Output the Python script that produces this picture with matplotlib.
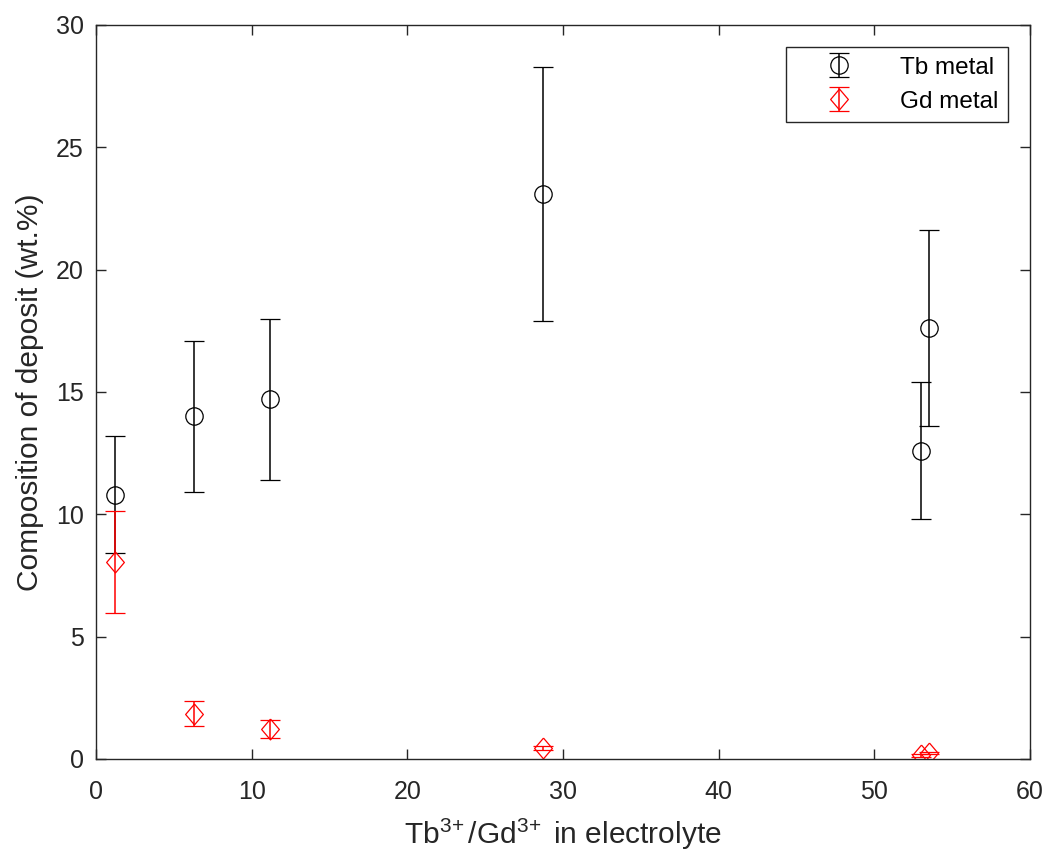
import matplotlib.pyplot as plt

# Tb3+/Gd3+ ratio in electrolyte
tb_x = [1.2, 6.3, 11.2, 28.7, 53.0, 53.5]
tb_y = [10.8, 14.0, 14.7, 23.1, 12.6, 17.6]
tb_err = [2.4, 3.1, 3.3, 5.2, 2.8, 4.0]

gd_x = [1.2, 6.3, 11.2, 28.7, 53.0, 53.5]
gd_y = [8.05, 1.85, 1.22, 0.45, 0.15, 0.25]
gd_err = [2.1, 0.5, 0.37, 0.1, 0.05, 0.05]

plt.rcParams['font.family'] = ['Liberation Sans', 'DejaVu Sans']
plt.rcParams['mathtext.fontset'] = 'custom'
plt.rcParams['mathtext.rm'] = 'Liberation Sans'
plt.rcParams['mathtext.it'] = 'Liberation Sans'

# MATLAB-like diamond, a bit taller than wide
diamond = [(0, 1), (0.85, 0), (0, -1), (-0.85, 0), (0, 1)]

fig = plt.figure(figsize=(10.47, 8.58), dpi=100)
ax = fig.add_axes([0.0917, 0.1154, 0.8921, 0.8555])

ax.errorbar(tb_x, tb_y, yerr=tb_err, fmt='o', color='black', mfc='none',
            markersize=12.5, markeredgewidth=0.9, elinewidth=1.1, capsize=7,
            capthick=1.1, label='Tb metal')
ax.errorbar(gd_x, gd_y, yerr=gd_err, fmt='', marker=diamond, linestyle='none',
            color='red', mfc='none', markersize=15, markeredgewidth=0.9,
            elinewidth=1.1, capsize=7, capthick=1.1, label='Gd metal')

ax.set_xlim(0, 60)
ax.set_ylim(0, 30)
ax.set_xticks(range(0, 61, 10))
ax.set_yticks(range(0, 31, 5))
ax.tick_params(direction='in', top=True, right=True, length=7, labelsize=18,
               colors='#262626', width=1)
ax.tick_params(axis='x', pad=15)
ax.tick_params(axis='y', pad=9)
for s in ax.spines.values():
    s.set_color('#262626')
    s.set_linewidth(1)

ax.set_xlabel(r'Tb$^{3\!+}$/Gd$^{3\!+}$ in electrolyte', fontsize=21.5,
              color='#262626', labelpad=9)
ax.set_ylabel('Composition of deposit (wt.%)', fontsize=21.5, color='#262626',
              labelpad=8)

leg = ax.legend(loc='upper right', fontsize=17.5, fancybox=False,
                edgecolor='#262626', framealpha=1, borderaxespad=0.9,
                handletextpad=0.7, handlelength=3.6)
leg.get_frame().set_linewidth(1)

plt.savefig('out.png', dpi=100)
plt.close()
